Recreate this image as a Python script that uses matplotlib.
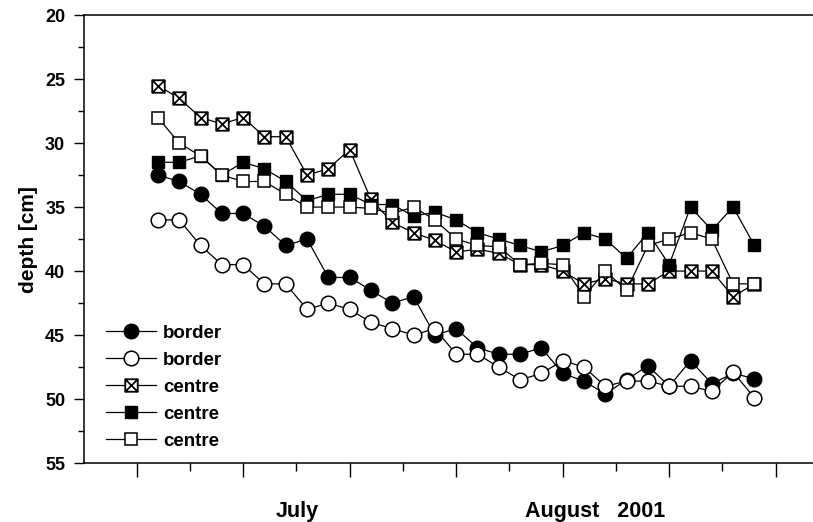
import matplotlib
matplotlib.use("Agg")
import matplotlib.pyplot as plt
from matplotlib.path import Path
from matplotlib.ticker import MultipleLocator

plt.rcParams['font.family'] = ['Liberation Sans', 'DejaVu Sans']
plt.rcParams['font.weight'] = 'bold'

# sampling days (one per measurement)
day = list(range(1, 30))

border_filled = [32.5, 33, 34, 35.5, 35.5, 36.5, 38, 37.5, 40.5, 40.5,
                 41.5, 42.5, 42, 45, 44.5, 46, 46.5, 46.5, 46, 48,
                 48.6, 49.6, 48.5, 47.4, 49, 47, 48.8, 48, 48.4]
border_open = [36, 36, 38, 39.5, 39.5, 41, 41, 43, 42.5, 43,
               44, 44.5, 45, 44.5, 46.5, 46.5, 47.5, 48.5, 48, 47,
               47.5, 49, 48.6, 48.6, 49, 49, 49.4, 47.9, 49.9]
centre_cross = [25.5, 26.5, 28, 28.5, 28, 29.5, 29.5, 32.5, 32, 30.5,
                34.4, 36.2, 37, 37.6, 38.5, 38.3, 38.6, 39.5, 39.5, 40,
                41, 40.6, 41, 41, 40, 40, 40, 42, 41]
centre_filled = [31.5, 31.5, 31, 32.5, 31.5, 32, 33, 34.5, 34, 34,
                 34.8, 34.8, 35.7, 35.4, 36, 37, 37.5, 38, 38.5, 38,
                 37, 37.5, 39, 37, 39.5, 35, 36.8, 35, 38]
centre_open = [28, 30, 31, 32.5, 33, 33, 34, 35, 35, 35,
               35.1, 35.5, 35, 36, 37.5, 38, 38.1, 39.5, 39.4, 39.5,
               42, 40, 41.5, 38, 37.5, 37, 37.5, 41, 41]

month_labels = ["July", "August   2001"]
month_pos = [7.55, 21.5]

# square with a cross inside
crossed_sq = Path(
    [(-1, -1), (1, -1), (1, 1), (-1, 1), (-1, -1),
     (-1, -1), (1, 1), (-1, 1), (1, -1)],
    [Path.MOVETO, Path.LINETO, Path.LINETO, Path.LINETO, Path.CLOSEPOLY,
     Path.MOVETO, Path.LINETO, Path.MOVETO, Path.LINETO])

fig = plt.figure(figsize=(8.13, 5.22), dpi=100)
ax = fig.add_axes([0.1033, 0.113, 0.8967, 0.858])

lw = 0.9
ax.plot(day, border_filled, '-', color='black', lw=lw, marker='o', ms=10.5,
        mfc='black', mec='black', label='border')
ax.plot(day, border_open, '-', color='black', lw=lw, marker='o', ms=10.5,
        mfc='white', mec='black', mew=1.1, label='border')
ax.plot(day, centre_cross, '-', color='black', lw=lw, marker=crossed_sq, ms=9,
        mfc='white', mec='black', mew=1.3, label='centre')
ax.plot(day, centre_filled, '-', color='black', lw=lw, marker='s', ms=9,
        mfc='black', mec='black', label='centre')
ax.plot(day, centre_open, '-', color='black', lw=lw, marker='s', ms=9,
        mfc='white', mec='black', mew=1.1, label='centre')

ax.set_ylim(55, 20)
ax.set_xlim(-2.47, 31.75)
ax.yaxis.set_major_locator(MultipleLocator(5))
ax.yaxis.set_minor_locator(MultipleLocator(2.5))
ax.xaxis.set_major_locator(MultipleLocator(5))
ax.xaxis.set_minor_locator(MultipleLocator(2.5))
ax.set_xticklabels([])
ax.tick_params(axis='x', which='major', direction='out', length=10, width=1)
ax.tick_params(axis='x', which='minor', direction='out', length=6, width=1)
ax.tick_params(axis='y', which='major', direction='out', length=7.5, width=1,
               labelsize=13, pad=6)
ax.tick_params(axis='y', which='minor', direction='out', length=4, width=1)
for lab in ax.get_yticklabels():
    lab.set_fontweight('bold')

ax.spines['right'].set_visible(False)
for s in ['left', 'top', 'bottom']:
    ax.spines[s].set_linewidth(1.1)

ax.set_ylabel("depth [cm]", fontsize=15, fontweight='bold', labelpad=5)

for lab, pos in zip(month_labels, month_pos):
    ax.text(pos, -0.1205, lab, transform=ax.get_xaxis_transform(),
            ha='center', va='baseline', fontsize=15.5, fontweight='bold')

leg = ax.legend(loc='lower left', frameon=False, fontsize=13.5,
                handlelength=2.7, handletextpad=0.36, labelspacing=0.53,
                borderaxespad=0.3, bbox_to_anchor=(0.012, 0.0))
for t in leg.get_texts():
    t.set_fontweight('bold')

fig.savefig("out.png", dpi=100)
